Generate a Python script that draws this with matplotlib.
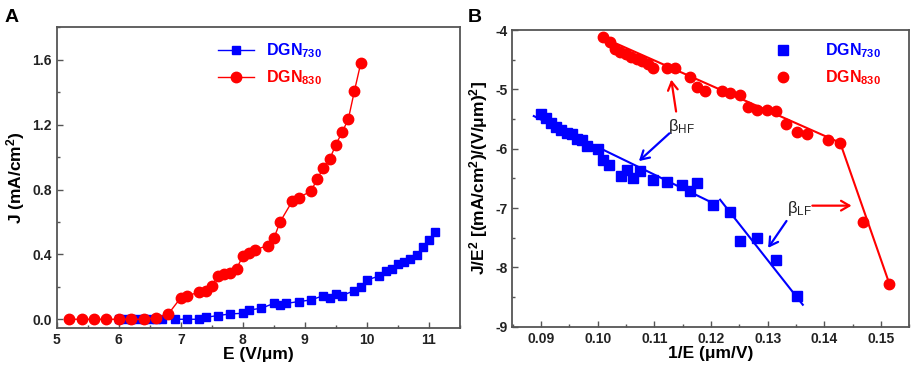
import numpy as np
import matplotlib.pyplot as plt
from matplotlib.ticker import MultipleLocator

plt.rcParams['font.family'] = ['Liberation Sans', 'DejaVu Sans']
plt.rcParams['font.weight'] = 'bold'
plt.rcParams['axes.labelweight'] = 'bold'
plt.rcParams['mathtext.default'] = 'regular'

# ---- panel A: J-E curves ----
e730 = [6.0, 6.1, 6.2, 6.3, 6.4, 6.5, 6.6, 6.7, 6.9, 7.1, 7.3, 7.4, 7.6, 7.8, 8.0, 8.1, 8.3,
        8.5, 8.6, 8.7, 8.9, 9.1, 9.3, 9.4, 9.5, 9.6, 9.8, 9.9, 10.0, 10.2, 10.3, 10.4,
        10.5, 10.6, 10.7, 10.8, 10.9, 11.0, 11.1]
j730 = [0.0, 0.0, 0.0, 0.0, 0.0, 0.0, 0.0, 0.0, 0.0, 0.0, 0.0, 0.012, 0.023, 0.033, 0.037,
        0.057, 0.068, 0.098, 0.088, 0.098, 0.109, 0.119, 0.146, 0.133, 0.156, 0.146,
        0.177, 0.197, 0.242, 0.267, 0.297, 0.312, 0.338, 0.351, 0.372, 0.397, 0.443,
        0.488, 0.535]
e830 = [5.2, 5.4, 5.6, 5.8, 6.0, 6.2, 6.4, 6.6, 6.8, 7.0, 7.1, 7.3, 7.4, 7.5, 7.6, 7.7,
        7.8, 7.9, 8.0, 8.1, 8.2, 8.4, 8.5, 8.6, 8.8, 8.9, 9.1, 9.2, 9.3, 9.4, 9.5, 9.6,
        9.7, 9.8, 9.9]
j830 = [0.0, 0.0, 0.0, 0.0, 0.0, 0.0, 0.0, 0.01, 0.033, 0.133, 0.146, 0.166, 0.176,
        0.207, 0.267, 0.277, 0.287, 0.312, 0.39, 0.408, 0.43, 0.453, 0.498, 0.60, 0.73,
        0.75, 0.79, 0.866, 0.933, 0.987, 1.077, 1.153, 1.233, 1.41, 1.577]

# ---- panel B: F-N plots ----
x730 = [0.0900, 0.0909, 0.0918, 0.0927, 0.0935, 0.0945, 0.0954, 0.0963, 0.0972, 0.0981,
        0.1000, 0.1010, 0.1020, 0.1041, 0.1051, 0.1062, 0.1075, 0.1098, 0.1123, 0.1148,
        0.1162, 0.1176, 0.1204, 0.1234, 0.1251, 0.1282, 0.1315, 0.1352]
y730 = [-5.42, -5.48, -5.56, -5.64, -5.69, -5.73, -5.76, -5.83, -5.86, -5.96, -6.00,
        -6.19, -6.28, -6.46, -6.36, -6.50, -6.38, -6.53, -6.56, -6.61, -6.72, -6.58,
        -6.95, -7.07, -7.55, -7.51, -7.87, -8.49]
x830 = [0.1010, 0.1021, 0.1030, 0.1040, 0.1050, 0.1059, 0.1069, 0.1078, 0.1088, 0.1098,
        0.1123, 0.1137, 0.1163, 0.1176, 0.1190, 0.1220, 0.1234, 0.1251, 0.1266, 0.1282,
        0.1299, 0.1315, 0.1333, 0.1352, 0.1369, 0.1407, 0.1428, 0.1469, 0.1515]
y830 = [-4.11, -4.20, -4.32, -4.37, -4.41, -4.45, -4.49, -4.53, -4.58, -4.64, -4.64,
        -4.64, -4.80, -4.96, -5.03, -5.03, -5.06, -5.10, -5.29, -5.34, -5.35, -5.37,
        -5.58, -5.72, -5.76, -5.85, -5.90, -7.23, -8.28]

# linear fits drawn on the F-N plot (end points)
fit730_hf_x = [0.0887, 0.1204]
fit730_hf_y = [-5.45, -6.92]
fit730_lf_x = [0.1216, 0.1362]
fit730_lf_y = [-6.86, -8.63]
fit830_x = [0.1007, 0.1428, 0.1515]
fit830_y = [-4.12, -5.90, -8.28]

fig = plt.figure(figsize=(9.13, 3.71), dpi=100)
axA = fig.add_axes([0.0621, 0.1167, 0.4417, 0.8097])
axB = fig.add_axes([0.5611, 0.1194, 0.4348, 0.7997])

for ax in (axA, axB):
    for s in ax.spines.values():
        s.set_color('#555555')
        s.set_linewidth(1.3)
    ax.tick_params(which='both', direction='in', colors='#555555', labelcolor='#222222',
                   labelsize=10, width=1)
    ax.tick_params(which='major', length=4)
    ax.tick_params(which='minor', length=2)

l1, = axA.plot(e730, j730, 's-', color='blue', ms=5.5, lw=1, label='DGN$_{730}$')
l2, = axA.plot(e830, j830, 'o-', color='red', ms=7.5, lw=1, label='DGN$_{830}$')
axA.set_xlim(5, 11.5)
axA.set_ylim(-0.052, 1.8)
axA.xaxis.set_major_locator(MultipleLocator(1))
axA.xaxis.set_minor_locator(MultipleLocator(0.5))
axA.yaxis.set_minor_locator(MultipleLocator(0.2))
axA.set_yticks([0.0, 0.4, 0.8, 1.2, 1.6])
axA.set_yticklabels(['0.0', '0.4', '0.8', '1.2', '1.6'])
axA.set_xlabel('E (V/\u03bcm)', fontsize=12.5, labelpad=0)
axA.set_ylabel('J (mA/cm$^2$)', fontsize=12.5, labelpad=4)
axA.legend(handles=[l1, l2], loc='upper center', bbox_to_anchor=(0.53, 1.0),
           frameon=False, fontsize=11.5, handlelength=2.2, labelcolor='linecolor')

axB.plot(fit730_hf_x, fit730_hf_y, '-', color='blue', lw=1.5)
axB.plot(fit730_lf_x, fit730_lf_y, '-', color='blue', lw=1.5)
axB.plot(fit830_x, fit830_y, '-', color='red', lw=1.5)
m1, = axB.plot(x730, y730, 's', color='blue', ms=6.5, label='DGN$_{730}$')
m2, = axB.plot(x830, y830, 'o', color='red', ms=7.5, label='DGN$_{830}$')
axB.set_xlim(0.0849, 0.155)
axB.set_ylim(-9, -4)
axB.xaxis.set_minor_locator(MultipleLocator(0.005))
axB.yaxis.set_minor_locator(MultipleLocator(0.5))
axB.set_xticks([0.09, 0.10, 0.11, 0.12, 0.13, 0.14, 0.15])
axB.set_xticklabels(['0.09', '0.10', '0.11', '0.12', '0.13', '0.14', '0.15'])
axB.set_yticks([-9, -8, -7, -6, -5, -4])
axB.set_yticklabels(['-9', '-8', '-7', '-6', '-5', '-4'])
axB.set_xlabel('1/E (\u03bcm/V)', fontsize=12.5, labelpad=0)
axB.set_ylabel('J/E$^2$ [(mA/cm$^2$)/(V/\u03bcm)$^2$]', fontsize=12.5, labelpad=4)
axB.legend(handles=[m1, m2], loc='upper right', bbox_to_anchor=(0.965, 1.01),
           frameon=False, fontsize=11.5, handletextpad=1.6, labelcolor='linecolor')

# beta annotations
arw = dict(arrowstyle='->,head_length=0.6,head_width=0.35', lw=1.6)
axB.text(0.1148, -5.62, '\u03b2$_{HF}$', fontsize=12, color='#222222', fontweight='normal',
         ha='center', va='center')
axB.annotate('', xy=(0.1129, -4.79), xytext=(0.1139, -5.42),
             arrowprops=dict(arw, color='red'))
axB.annotate('', xy=(0.1069, -6.24), xytext=(0.1130, -5.71),
             arrowprops=dict(arw, color='blue'))
axB.text(0.1356, -7.0, '\u03b2$_{LF}$', fontsize=12, color='#222222', fontweight='normal',
         ha='center', va='center')
axB.annotate('', xy=(0.1453, -6.96), xytext=(0.1374, -6.96),
             arrowprops=dict(arw, color='red'))
axB.annotate('', xy=(0.1298, -7.71), xytext=(0.1336, -7.18),
             arrowprops=dict(arw, color='blue'))

fig.text(0.005, 0.975, 'A', fontsize=14, fontweight='bold', va='top')
fig.text(0.512, 0.975, 'B', fontsize=14, fontweight='bold', va='top')

fig.savefig('out.png', dpi=100)
